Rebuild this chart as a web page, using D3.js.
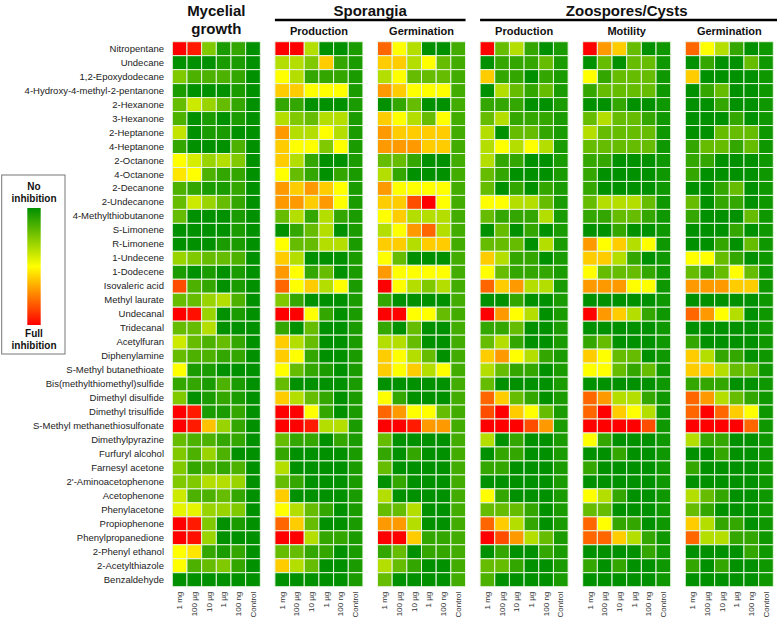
<!DOCTYPE html>
<html><head><meta charset="utf-8">
<script src="https://cdnjs.cloudflare.com/ajax/libs/d3/7.8.5/d3.min.js"></script>
<style>
body{margin:0;background:#fff;}
svg{display:block;font-family:"Liberation Sans",Arial,sans-serif;}
</style></head>
<body>
<svg id="chart" width="777" height="620"></svg>
<script>
const compounds = ["Nitropentane","Undecane","1,2-Epoxydodecane","4-Hydroxy-4-methyl-2-pentanone","2-Hexanone","3-Hexanone","2-Heptanone","4-Heptanone","2-Octanone","4-Octanone","2-Decanone","2-Undecanone","4-Methylthiobutanone","S-Limonene","R-Limonene","1-Undecene","1-Dodecene","Isovaleric acid","Methyl laurate","Undecanal","Tridecanal","Acetylfuran","Diphenylamine","S-Methyl butanethioate","Bis(methylthiomethyl)sulfide","Dimethyl disulfide","Dimethyl trisulfide","S-Methyl methanethiosulfonate","Dimethylpyrazine","Furfuryl alcohol","Farnesyl acetone","2'-Aminoacetophenone","Acetophenone","Phenylacetone","Propiophenone","Phenylpropanedione","2-Phenyl ethanol","2-Acetylthiazole","Benzaldehyde"];
const doses = ["1 mg","100 µg","10 µg","1 µg","100 ng","Control"];
const panels = ["Mycelial growth","Sporangia production","Sporangia germination","Zoospores production","Zoospores motility","Zoospores germination"];
const subTitles = ["","Production","Germination","Production","Motility","Germination"];

// 0 = full inhibition, 10 = no inhibition; columns follow doses
const mycelial = [
[0,0.5,7.5,9.5,9,10],[10,10,10,9.5,9.5,10],[7.5,8.5,8.5,8.5,9,10],[9.5,10,10,10,9.5,10],[8,6,7,8,9,10],
[8.5,10,9.5,10,9.5,10],[6.2,10,9.5,9.5,10,10],[9,10,10,10,8.5,10],[5,5.8,7,6.5,7.5,10],[4.5,5,8.5,9,9,10],
[8.5,9,9.5,9.5,9,10],[8,6,7,8,9,10],[8,10,10,10,9.5,10],[10,10,10,10,9.5,10],[10,10,10,9.5,9.5,10],
[7,7.5,8,8,8.5,10],[9.5,10,9.5,10,9.5,10],[1.5,8.5,9,10,9.5,10],[8,8,7,6.5,8.5,10],[0,0.3,7,10,9.5,10],
[8,8,6.5,10,10,10],[6,8,8.5,8,9,10],[8,8.5,8.5,9,9,10],[5,9.5,9.5,10,10,10],[9,9,9.5,8.5,9.5,10],
[7.5,10,9.5,9,9.5,10],[0,0.5,9.5,9.5,9,10],[0,0.5,3.8,7,9,10],[8,8.5,8.5,9,9,10],[7.5,8.5,7,8.5,10,10],
[7.5,9,8.5,9,8.5,10],[7.5,7.5,6.5,6.5,7,10],[6,8.5,8.5,8,9,10],[5.5,5.5,7,7,7.5,10],[0,0.5,7.5,10,9.5,10],
[0,0.3,7,10,10,10],[5,4.5,9,9.5,9,10],[5,8.5,8,7.5,9,10],[10,10,10,10,10,10]];

const sporProduction = [
[0,0,6.5,10,10,9.5],[6.5,6.5,7.5,4,9,9.5],[5,6.5,9,9,9,9.5],[4,4,5,5,5,9.5],[9,9,10,10,10,9.5],
[6.5,7.5,8,6.5,6.5,9.5],[3,6.5,6.5,5,6.5,9.5],[4,5,5,7.5,5,9.5],[4,6.5,9,10,10,9.5],[5,8,9,10,9,9.5],
[3,4,3,4,5,9.5],[3,3,4,3,5,9.5],[8,6.5,9,6.5,9,9.5],[10,9,8,6.5,10,9.5],[5,8,8,6.5,6.5,9.5],
[4,6.5,10,10,10,9.5],[3,5,9,8,10,9.5],[2,5,4,6.5,5,9.5],[7.5,9,10,10,10,9.5],[0,0,5,9,10,9.5],
[9,10,8,10,10,9.5],[4,6.5,8,10,10,9.5],[4,5,9,10,10,9.5],[5,8,9,9.5,10,9.5],[8,10,10,10,10,9.5],
[4,6.5,8,9,10,9.5],[0,0,5,9,10,9.5],[0,0,0.5,6.5,6.5,9.5],[8,9,9,10,9,9.5],[9,10,10,10,10,9.5],
[6.5,10,10,10,10,9.5],[8,9,10,10,10,9.5],[4,10,10,10,10,9.5],[5,6.5,8,9,10,9.5],[2,4,8,10,10,9.5],
[0,0,6.5,9,9,9.5],[8,8,9,9,10,9.5],[4,6.5,8,10,10,9.5],[10,10,10,10,10,9.5]];

const sporGermination = [
[2,5,6.5,10,10,8.7],[4,4,6.5,5,8,8.7],[6.5,5,8,8,8,8.7],[3,4,5,5,5,8.7],[10,9,8,10,10,8.7],
[4,5,6.5,8,5,8.7],[3,4,4,4,4,8.7],[3,3,3,4,4,8.7],[8,8,9,10,10,8.7],[6.5,9,10,10,10,8.7],
[3,5,5,5,5,8.7],[4,4,1.5,0,5,8.7],[5,4,6.5,6.5,6.5,8.7],[6.5,5,3,2,6.5,8.7],[4,4,6.5,4,4,8.7],
[5,8,10,10,10,8.7],[3,5,5,5,5,8.7],[0,5,6.5,7.5,6.5,8.7],[9,10,10,10,10,8.7],[0,0,5,5,8,8.7],
[9,10,8,10,10,8.7],[6.5,6.5,8,10,10,8.7],[4,5,6.5,8,10,8.7],[4,5,4,6.5,5,8.7],[10,10,10,10,10,8.7],
[5,9,10,10,10,8.7],[2,3,5,5,8,8.7],[0,0,0.5,3,3,8.7],[8,10,10,10,10,8.7],[9,10,9,10,10,8.7],
[8,10,10,10,10,8.7],[10,9,10,10,10,8.7],[6.5,10,10,10,10,8.7],[8,8,6.5,10,10,8.7],[3,3,6.5,10,10,8.7],
[0,0,4,9,9,8.7],[9,8,10,9,9,8.7],[6.5,8,9,10,10,8.7],[8,10,10,10,10,8.7]];

const zooProduction = [
[0,8,6.5,9,10,9.5],[10,9,9,9,8,9.5],[4,9,9,10,9,9.5],[10,6.5,8,9,8,9.5],[9,9,9,10,10,9.5],
[8,6.5,9,9,9,9.5],[6.5,10,8,8,9,9.5],[6.5,5,6.5,5,6.5,9.5],[6.5,9,9,10,10,9.5],[8,9,10,10,10,9.5],
[8,10,9,10,9,9.5],[5,5,6.5,6.5,8,9.5],[8,9,9,9,6.5,9.5],[10,8,10,9,10,9.5],[8,8,8,10,6.5,9.5],
[4,6.5,9,9,10,9.5],[5,8,9,9,9,9.5],[2,4,3,6.5,6.5,9.5],[10,10,9,10,10,9.5],[0,3,5,6.5,10,9.5],
[9,9,8,10,10,9.5],[8,6.5,9,10,10,9.5],[4,3,5,6.5,9,9.5],[6.5,8,9,9,10,9.5],[8,10,10,10,10,9.5],
[2,4,8,9,10,9.5],[1.5,0,4,5,8,9.5],[0,0,0,1.5,3,9.5],[6.5,10,9,10,10,9.5],[10,9,9,10,10,9.5],
[9,9,10,10,10,9.5],[10,10,10,10,10,9.5],[5,9,10,10,10,9.5],[8,8,8,9,10,9.5],[2,4,6.5,9,10,9.5],
[0,1.5,3,6.5,8,9.5],[10,9,10,10,9,9.5],[8,8,9,10,10,9.5],[8.5,10,10,10,10,9.5]];

const zooMotility = [
[0,3,4,8,10,9.7],[10,8,10,8,8,9.7],[5,9,8,8,8,9.7],[9,8,8,8,8,9.7],[10,10,9,10,10,9.7],
[8,6.5,8,8,9,9.7],[6.5,8,8,8,8,9.7],[8,8,8,8,8,9.7],[9,9,10,10,10,9.7],[9,10,10,10,10,9.7],
[9,10,10,10,10,9.7],[8,6.5,6.5,6.5,8,9.7],[9,9,8,8,9,9.7],[10,10,9,10,10,9.7],[3,5,4,6.5,5,9.7],
[4,4,6.5,9,10,9.7],[5,8,8,8,9,9.7],[3,3,3,5,5,9.7],[10,10,10,10,10,9.7],[0,3,4,6.5,9,9.7],
[10,10,10,10,10,9.7],[9,8,10,10,10,9.7],[4,5,8,8,10,9.7],[5,5,8,9,8,9.7],[10,10,10,10,10,9.7],
[2,3,6.5,6.5,9,9.7],[2,0,4,5,6.5,9.7],[0,0,0,0,1.5,9.7],[5,9,10,10,10,9.7],[10,10,9,10,10,9.7],
[9,10,10,10,10,9.7],[10,10,10,10,10,9.7],[5,6.5,9,10,10,9.7],[8,8,10,10,10,9.7],[2,5,9,9,10,9.7],
[2,2,4,6.5,9,9.7],[10,10,10,10,9,9.7],[9,10,9,10,10,9.7],[10,10,10,10,10,9.7]];

const zooGermination = [
[2,5,6.5,9,10,9.7],[10,9,10,10,8,9.7],[4,10,10,10,10,9.7],[10,9,8,10,10,9.7],[10,10,9,10,10,9.7],
[10,10,10,9,10,9.7],[10,10,8,8,8,9.7],[9,8,8,9,8,9.7],[9,9,10,10,10,9.7],[9,10,10,10,10,9.7],
[10,10,9,8,10,9.7],[8,10,9,9,10,9.7],[9,10,10,10,8,9.7],[10,10,10,9,10,9.7],[10,10,9,10,8,9.7],
[5,5,8,9,10,9.7],[8,9,8,5,8,9.7],[3,3,3,4,4,9.7],[10,10,10,10,10,9.7],[2,3,5,6.5,10,9.7],
[10,10,10,10,10,9.7],[9,10,10,10,10,9.7],[4,6.5,9,9,10,9.7],[4,4,6.5,8,8,9.7],[9,9,9,10,10,9.7],
[2,3,6.5,8,9,9.7],[2,0,2,4,5,9.7],[0,0,0,0,2,9.7],[6.5,9,9,10,10,9.7],[10,10,9,10,10,9.7],
[9,10,10,10,10,9.7],[10,10,10,10,10,9.7],[6.5,8,9,10,10,9.7],[8,9,10,10,10,9.7],[4,6.5,9,9,10,9.7],
[2,6.5,6.5,9,9,9.7],[10,10,10,10,9,9.7],[9,10,9,10,10,9.7],[10,10,10,10,10,9.7]];

const panelValues = [mycelial, sporProduction, sporGermination, zooProduction, zooMotility, zooGermination];

const svg = d3.select("#chart");
const color = d3.scaleLinear().domain([0,2.5,5,10]).range(["#ff0000","#ff8000","#ffff00","#009000"]).clamp(true);

const y = d3.scaleBand().domain(compounds).range([41.7, 586.7]).padding(0);
const px = d3.scaleBand().domain(panels).range([172.3, 773.3]).paddingInner(0.142).paddingOuter(0);

// row labels
const yAxis = svg.append("g").attr("transform","translate(166,0)")
  .call(d3.axisLeft(y).tickSize(0).tickPadding(2));
yAxis.select(".domain").remove();
yAxis.selectAll("text").attr("font-size","9.5px").attr("fill","#222")
  .attr("font-family","'Liberation Sans',Arial,sans-serif");

panels.forEach((p,pi)=>{
  const x = d3.scaleBand().domain(doses).range([px(p), px(p)+px.bandwidth()]);
  const g = svg.append("g");
  const cells = [];
  panelValues[pi].forEach((row,ri)=>row.forEach((v,ci)=>cells.push({c:compounds[ri],d:doses[ci],v})));
  g.selectAll("rect").data(cells).join("rect")
    .attr("x",d=>x(d.d)).attr("y",d=>y(d.c))
    .attr("width",x.bandwidth()).attr("height",y.bandwidth())
    .attr("fill",d=>color(d.v))
    .attr("stroke","#e8f5e0").attr("stroke-width",1);
  const ax = svg.append("g").attr("transform",`translate(0,${y.range()[1]+3})`)
    .call(d3.axisBottom(x).tickSize(0).tickPadding(0));
  ax.select(".domain").remove();
  ax.selectAll("text").attr("transform","rotate(-90)").attr("text-anchor","end")
    .attr("x",-2).attr("y",0).attr("dy","0.32em")
    .attr("font-size","8px").attr("fill","#333")
    .attr("font-family","'Liberation Sans',Arial,sans-serif");
  if (subTitles[pi]) {
    svg.append("text").attr("x",px(p)+px.bandwidth()/2).attr("y",35)
      .attr("text-anchor","middle").attr("font-weight","bold").attr("font-size","11px")
      .attr("fill","#111").text(subTitles[pi]);
  }
});

// group headers
const hdr = (t,xc,yb)=>svg.append("text").attr("x",xc).attr("y",yb).attr("text-anchor","middle")
  .attr("font-weight","bold").attr("font-size","15px").attr("fill","#111").text(t);
const pm = px(panels[0])+px.bandwidth()/2;
hdr("Mycelial",pm,16); hdr("growth",pm,34);
const s0 = px(panels[1]), s1 = px(panels[2])+px.bandwidth();
hdr("Sporangia",(s0+s1)/2,16);
svg.append("line").attr("x1",s0).attr("x2",s1).attr("y1",20).attr("y2",20).attr("stroke","#000").attr("stroke-width",2.5);
const z0 = px(panels[3]), z1 = 777;
hdr("Zoospores/Cysts",(px(panels[3])+px(panels[5])+px.bandwidth())/2,16);
svg.append("line").attr("x1",z0).attr("x2",z1).attr("y1",20).attr("y2",20).attr("stroke","#000").attr("stroke-width",2.5);

// legend
const defs = svg.append("defs");
const grad = defs.append("linearGradient").attr("id","lg").attr("x1",0).attr("x2",0).attr("y1",1).attr("y2",0);
d3.range(0,10.01,1).forEach(v=>grad.append("stop").attr("offset",v/10).attr("stop-color",color(v)));
svg.append("rect").attr("x",1.7).attr("y",175).attr("width",63.3).attr("height",179)
  .attr("fill","#fff").attr("stroke","#777").attr("stroke-width",1);
svg.append("rect").attr("x",27.3).attr("y",208).attr("width",13.4).attr("height",117).attr("fill","url(#lg)");
const lt = (t,yb)=>svg.append("text").attr("x",34).attr("y",yb).attr("text-anchor","middle")
  .attr("font-weight","bold").attr("font-size","10px").attr("fill","#111").text(t);
lt("No",190); lt("inhibition",202); lt("Full",337); lt("inhibition",349);
</script>
</body></html>
